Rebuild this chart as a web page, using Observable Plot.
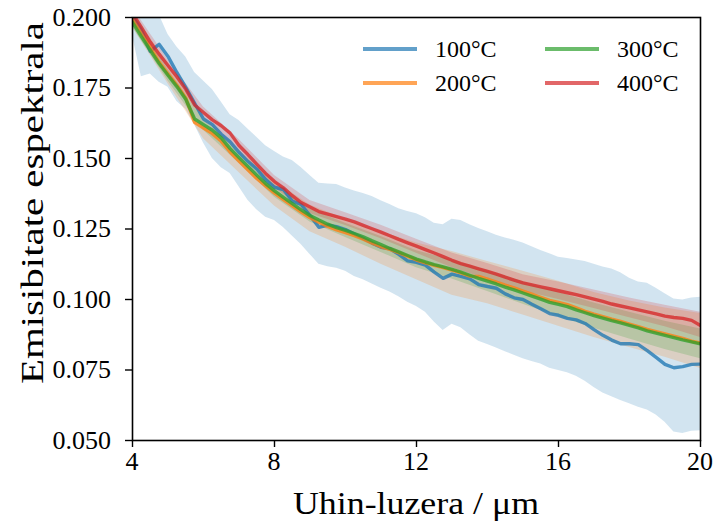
<!DOCTYPE html>
<html>
<head>
<meta charset="utf-8">
<script src="https://cdn.jsdelivr.net/npm/d3@7"></script>
<script src="https://cdn.jsdelivr.net/npm/@observablehq/plot@0.6"></script>
</head>
<body style="margin:0;background:white">
<div id="chart"></div>
<script>
// ---- data ----
const wavelength = [4,4.25,4.5,4.75,5,5.25,5.5,5.75,6,6.25,6.5,6.75,7,7.25,7.5,7.75,8,8.25,8.5,8.75,9,9.25,9.5,9.75,10,10.25,10.5,10.75,11,11.25,11.5,11.75,12,12.25,12.5,12.75,13,13.25,13.5,13.75,14,14.25,14.5,14.75,15,15.25,15.5,15.75,16,16.25,16.5,16.75,17,17.25,17.5,17.75,18,18.25,18.5,18.75,19,19.25,19.5,19.75,20];

const t100 = [0.2005,0.1955,0.1880,0.1905,0.1862,0.1805,0.1752,0.1696,0.1640,0.1620,0.1586,0.1559,0.1522,0.1490,0.1463,0.1425,0.1398,0.1390,0.1349,0.1337,0.1298,0.1256,0.1264,0.1258,0.1248,0.1232,0.1216,0.1200,0.1185,0.1180,0.1160,0.1137,0.1132,0.1122,0.1097,0.1075,0.1090,0.1082,0.1073,0.1053,0.1046,0.1040,0.1020,0.1006,0.1000,0.0983,0.0967,0.0950,0.0944,0.0933,0.0928,0.0915,0.0893,0.0873,0.0856,0.0843,0.0843,0.0840,0.0819,0.0795,0.0770,0.0758,0.0762,0.0770,0.0771];
const t100lo = [0.1935,0.1790,0.1800,0.1770,0.1753,0.1702,0.1675,0.1620,0.1555,0.1500,0.1467,0.1447,0.1400,0.1352,0.1318,0.1292,0.1280,0.1255,0.1225,0.1195,0.1160,0.1125,0.1116,0.1111,0.1100,0.1082,0.1070,0.1055,0.1040,0.1027,0.1010,0.0990,0.0975,0.0955,0.0920,0.0890,0.0912,0.0900,0.0875,0.0852,0.0840,0.0828,0.0815,0.0802,0.0790,0.0780,0.0771,0.0756,0.0748,0.0740,0.0728,0.0710,0.0688,0.0668,0.0655,0.0642,0.0630,0.0618,0.0608,0.0590,0.0565,0.0530,0.0525,0.0533,0.0535];
const t100hi = [0.2030,0.2010,0.2005,0.2010,0.1940,0.1895,0.1860,0.1805,0.1775,0.1745,0.1700,0.1655,0.1635,0.1605,0.1575,0.1545,0.1525,0.1505,0.1493,0.1468,0.1440,0.1412,0.1410,0.1408,0.1395,0.1385,0.1376,0.1365,0.1350,0.1337,0.1322,0.1312,0.1304,0.1290,0.1270,0.1265,0.1285,0.1280,0.1265,0.1252,0.1240,0.1228,0.1218,0.1210,0.1200,0.1187,0.1174,0.1162,0.1150,0.1145,0.1140,0.1135,0.1125,0.1115,0.1108,0.1095,0.1075,0.1062,0.1058,0.1040,0.1020,0.1002,0.0998,0.1005,0.1008];

const t200 = [0.1993,0.1942,0.1894,0.1842,0.1800,0.1760,0.1715,0.1628,0.1608,0.1588,0.1561,0.1523,0.1491,0.1460,0.1429,0.1403,0.1377,0.1354,0.1332,0.1310,0.1290,0.1274,0.1259,0.1247,0.1237,0.1226,0.1214,0.1200,0.1187,0.1178,0.1166,0.1153,0.1140,0.1130,0.1121,0.1113,0.1104,0.1094,0.1083,0.1082,0.1072,0.1062,0.1051,0.1041,0.1030,0.1019,0.1008,0.0997,0.0990,0.0982,0.0970,0.0958,0.0948,0.0939,0.0930,0.0922,0.0913,0.0904,0.0894,0.0886,0.0878,0.0870,0.0862,0.0852,0.0845];
const t300 = [0.1983,0.1932,0.1884,0.1837,0.1795,0.1755,0.1710,0.1640,0.1620,0.1600,0.1573,0.1535,0.1503,0.1472,0.1441,0.1411,0.1385,0.1362,0.1340,0.1318,0.1298,0.1282,0.1267,0.1255,0.1245,0.1234,0.1222,0.1208,0.1195,0.1181,0.1169,0.1156,0.1143,0.1133,0.1124,0.1116,0.1107,0.1097,0.1086,0.1075,0.1065,0.1055,0.1044,0.1034,0.1023,0.1012,0.1001,0.0990,0.0983,0.0975,0.0963,0.0953,0.0943,0.0934,0.0925,0.0917,0.0908,0.0899,0.0889,0.0881,0.0873,0.0865,0.0857,0.0850,0.0843];
const t400 = [0.2015,0.1965,0.1913,0.1870,0.1830,0.1790,0.1746,0.1690,0.1663,0.1637,0.1616,0.1590,0.1546,0.1514,0.1480,0.1447,0.1418,0.1396,0.1368,0.1344,0.1328,0.1312,0.1303,0.1294,0.1285,0.1275,0.1263,0.1251,0.1239,0.1226,0.1213,0.1201,0.1189,0.1177,0.1165,0.1152,0.1139,0.1127,0.1118,0.1109,0.1100,0.1090,0.1079,0.1069,0.1059,0.1052,0.1045,0.1038,0.1031,0.1024,0.1017,0.1009,0.1001,0.0993,0.0984,0.0977,0.0970,0.0963,0.0956,0.0949,0.0941,0.0936,0.0933,0.0926,0.0908];

// bands for 200/300/400 °C, read on a 1 µm grid
const bandGrid = [4,5,6,7,8,9,10,11,12,13,14,15,16,17,18,19,20];
const t200lo = [0.1965,0.1765,0.1570,0.1450,0.1332,0.1240,0.1185,0.1125,0.1070,0.1015,0.0985,0.0945,0.0905,0.0865,0.0830,0.0795,0.0755];
const t200hi = [0.2020,0.1835,0.1645,0.1530,0.1420,0.1335,0.1285,0.1240,0.1200,0.1170,0.1135,0.1100,0.1065,0.1025,0.0995,0.0970,0.0950];
const t300lo = [0.1965,0.1775,0.1600,0.1483,0.1363,0.1275,0.1220,0.1167,0.1113,0.1073,0.1028,0.0983,0.0940,0.0898,0.0860,0.0823,0.0790];
const t300hi = [0.2000,0.1815,0.1640,0.1523,0.1407,0.1320,0.1270,0.1223,0.1173,0.1140,0.1102,0.1063,0.1025,0.0988,0.0955,0.0923,0.0895];
const t400lo = [0.1995,0.1810,0.1643,0.1525,0.1396,0.1305,0.1262,0.1215,0.1164,0.1113,0.1072,0.1030,0.1000,0.0968,0.0935,0.0903,0.0865];
const t400hi = [0.2035,0.1850,0.1683,0.1567,0.1440,0.1351,0.1308,0.1263,0.1214,0.1165,0.1128,0.1088,0.1062,0.1034,0.1005,0.0980,0.0955];

const seriesNames = ["100°C", "200°C", "300°C", "400°C"];
const seriesColors = ["#1f77b4", "#ff7f0e", "#2ca02c", "#d62728"];
const xTicks = [4, 8, 12, 16, 20];
const yTicks = [0.05, 0.075, 0.1, 0.125, 0.15, 0.175, 0.2];
const xLabel = "Uhin-luzera / μm";
const yLabel = "Emisibitate espektrala";

// ---- tables ----
const lineRows = [t100, t200, t300, t400].map((vals, i) =>
  wavelength.map((x, j) => ({x, y: vals[j], s: seriesNames[i]})));
const blueBand = wavelength.map((x, j) => ({x, lo: t100lo[j], hi: t100hi[j]}));
const mkBand = (lo, hi) => bandGrid.map((x, j) => ({x, lo: lo[j], hi: hi[j]}));
const bands = [blueBand, mkBand(t200lo, t200hi), mkBand(t300lo, t300hi), mkBand(t400lo, t400hi)];

const FONT = "'Liberation Serif', 'DejaVu Serif', serif";
const marks = [];
bands.forEach((b, i) => {
  marks.push(Plot.areaY(b, {x: "x", y1: "lo", y2: "hi", fill: seriesColors[i], fillOpacity: 0.2, clip: true}));
});
lineRows.forEach((rows, i) => {
  marks.push(Plot.lineY(rows, {x: "x", y: "y", stroke: seriesColors[i], strokeOpacity: 0.78, strokeWidth: 3.4, clip: true}));
});
marks.push(Plot.axisX({ticks: xTicks, tickSize: 7, tickFormat: () => "", label: null, strokeWidth: 1.4}));
marks.push(Plot.axisY({ticks: yTicks, tickSize: 7, tickFormat: () => "", label: null, strokeWidth: 1.4}));
marks.push(Plot.frame({stroke: "black", strokeWidth: 1.6}));

const chart = Plot.plot({
  width: 716,
  height: 525,
  marginLeft: 132,
  marginRight: 16,
  marginTop: 17,
  marginBottom: 85,
  x: {domain: [4, 20]},
  y: {domain: [0.05, 0.2]},
  style: {fontFamily: FONT, fontSize: "26px", color: "black", background: "white", overflow: "visible"},
  marks
});
document.getElementById("chart").appendChild(chart);

// ---- tick labels (positioned with the plot's own scales), axis labels, legend ----
const svg = d3.select(chart);
const sx = chart.scale("x"), sy = chart.scale("y");
const fmtY = d3.format(".3f");
const tickG = svg.append("g").attr("fill", "black")
  .style("font-family", FONT).style("font-size", "26px");
yTicks.forEach(v => {
  tickG.append("text").text(fmtY(v))
    .attr("x", 111).attr("y", sy.apply(v)).attr("dy", "0.33em")
    .attr("text-anchor", "end");
});
xTicks.forEach(v => {
  tickG.append("text").text(String(v))
    .attr("x", sx.apply(v)).attr("y", 470)
    .attr("text-anchor", "middle");
});

svg.append("text").text(xLabel)
  .attr("x", 416).attr("y", 514)
  .attr("text-anchor", "middle")
  .attr("textLength", 246).attr("lengthAdjust", "spacingAndGlyphs")
  .style("font-family", FONT).style("font-size", "31px").attr("fill", "black");
svg.append("text").text(yLabel)
  .attr("transform", "translate(43,203) rotate(-90)")
  .attr("text-anchor", "middle")
  .attr("textLength", 362).attr("lengthAdjust", "spacingAndGlyphs")
  .style("font-family", FONT).style("font-size", "32px").attr("fill", "black");

const legendPos = [[363, 49], [363, 83], [545, 49], [545, 83]];
seriesNames.forEach((name, i) => {
  const [lx, ly] = legendPos[i];
  svg.append("line").attr("x1", lx).attr("x2", lx + 54).attr("y1", ly).attr("y2", ly)
    .attr("stroke", seriesColors[i]).attr("stroke-opacity", 0.7).attr("stroke-width", 4);
  svg.append("text").text(name).attr("x", lx + 72).attr("y", ly + 8)
    .attr("text-anchor", "start")
    .style("font-family", FONT).style("font-size", "24px").attr("fill", "black");
});
</script>
</body>
</html>
